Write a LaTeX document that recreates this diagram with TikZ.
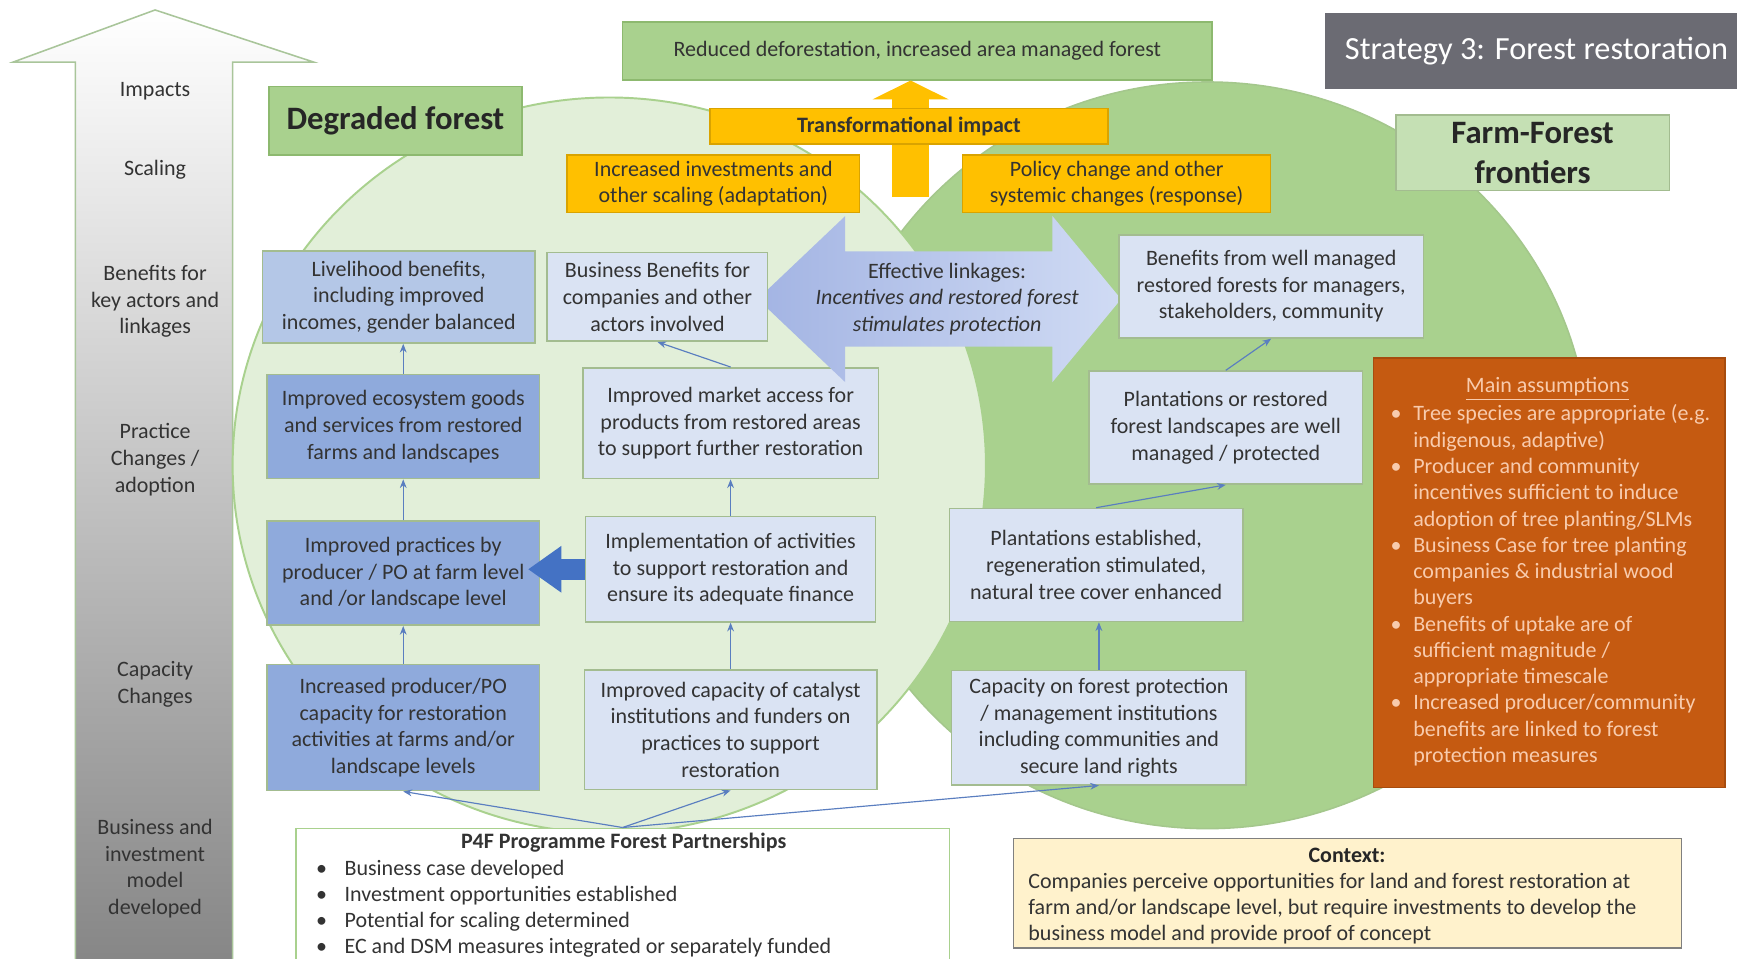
\documentclass[tikz,border=0pt]{standalone}
\usepackage{fontspec}
\setmainfont{Carlito}
\usepackage{tikz}
\usetikzlibrary{shapes,arrows,arrows.meta,positioning,calc}

\definecolor{leafpale}{HTML}{E2EFD9}
\definecolor{leaf}{HTML}{A9D18E}
\definecolor{leafedge}{HTML}{8DB96F}
\definecolor{leaflight}{HTML}{C5E0B4}
\definecolor{amber}{HTML}{FFC000}
\definecolor{amberedge}{HTML}{D9A300}
\definecolor{skypale}{HTML}{DAE3F3}
\definecolor{skymid}{HTML}{B4C7E7}
\definecolor{skydeep}{HTML}{8FAADC}
\definecolor{royal}{HTML}{4472C4}
\definecolor{linkblue}{HTML}{5A7EC0}
\definecolor{rust}{HTML}{C55A11}
\definecolor{peach}{HTML}{F8CBAD}
\definecolor{slate}{HTML}{6B6B73}
\definecolor{cream}{HTML}{FFF2CC}
\definecolor{ink}{HTML}{333333}
\definecolor{boxedge}{HTML}{A3BC90}
\definecolor{shaftedge}{HTML}{A9C59A}
\definecolor{wideL}{HTML}{A3B4E3}
\definecolor{wideR}{HTML}{D0DBF4}

\newcommand{\bul}{\textbullet}

\tikzset{
  box/.style      = {draw=boxedge, line width=0.8pt, rectangle, align=center, inner sep=0pt, text=ink},
  palebox/.style  = {box, fill=skypale},
  midbox/.style   = {box, fill=skymid},
  deepbox/.style  = {box, fill=skydeep},
  amberbox/.style = {box, fill=amber, draw=amberedge},
  greenbox/.style = {box, fill=leaf, draw=leafedge},
  titlebox/.style = {box, font=\fontsize{16.8}{20.5}\selectfont\bfseries, text=black!85},
  link/.style     = {-{Stealth[length=4.5pt,width=3.5pt]}, line width=0.6pt, draw=linkblue},
  level/.style    = {align=center, text=ink},
  listtext/.style = {anchor=north west, inner sep=0pt, align=left, font=\fontsize{11.3}{13.5}\selectfont}
}

\begin{document}
\begin{tikzpicture}[x=0.02cm, y=-0.02cm, font=\fontsize{11.3}{13.7}\selectfont]
  \fill[white] (0,0) rectangle (1568,865);
  \useasboundingbox (0,0) rectangle (1568,865);

  % level arrow on the left
  \shadedraw[top color=white, middle color=black!12, bottom color=black!48, draw=shaftedge, line width=0.8pt]
    (68,880) -- (68,56) -- (12,56) -- (140,9) -- (283,56) -- (210,56) -- (210,880) -- cycle;
  \node[level] (lvimpact) at (140,82) {Impacts};
  \node[level] (lvscaling) at (140,153) {Scaling};
  \node[level] (lvbenefit) at (140,272) {Benefits for\\key actors and\\linkages};
  \node[level] (lvpractice) at (140,415) {Practice\\Changes /\\adoption};
  \node[level] (lvcapacity) at (140,618) {Capacity\\Changes};
  \node[level] (lvbusiness) at (140,784) {Business and\\investment\\model\\developed};

  % the two landscapes
  \draw[fill=leaf, draw=leafedge!80, line width=0.8pt] (1090,411) ellipse [x radius=345, y radius=337];
  \draw[fill=leafpale, draw=leaf, line width=1pt] (550,420) ellipse [x radius=340, y radius=332];

  % transformational impact arrow
  \coordinate (impactfoot) at (822,178);
  \node[greenbox, minimum width=10.64cm, minimum height=1.04cm] (reduced) at (828,46) {Reduced deforestation, increased area managed forest};
  \draw[line width=0.66cm, draw=amber, -{Triangle[width=1.36cm,length=0.34cm]}] (impactfoot) -- (impactfoot |- reduced.south);

  % headings
  \node[box, fill=slate, draw=slate, text=white, font=\fontsize{16.6}{20}\selectfont, minimum width=7.6cm, minimum height=1.36cm] (strategy) at (1387,46) {Strategy 3: Forest restoration};
  \node[titlebox, fill=leaf, draw=leafedge, minimum width=4.56cm, minimum height=1.24cm] (degraded) at (357,109) {Degraded forest};
  \node[titlebox, fill=leaflight, minimum width=4.94cm, minimum height=1.36cm] (frontier) at (1383.5,138) {Farm-Forest\\frontiers};

  \node[amberbox, font=\fontsize{11.3}{13.7}\selectfont\bfseries, minimum width=7.18cm, minimum height=0.64cm] (transf) at (820.5,114) {Transformational impact};
  \node[amberbox, minimum width=5.28cm, minimum height=1.04cm] (invest) at (644,166) {Increased investments and\\other scaling (adaptation)};
  \node[amberbox, minimum width=5.56cm, minimum height=1.04cm] (policy) at (1008,166) {Policy change and other\\systemic changes (response)};

  % middle column
  \node[palebox, minimum width=5.34cm, minimum height=2cm] (market) at (659.5,382) {Improved market access for\\products from restored areas\\to support further restoration};
  \node[palebox, minimum width=5.24cm, minimum height=1.9cm] (implement) [below=0.66cm of market] {Implementation of activities\\to support restoration and\\ensure its adequate finance};
  \node[palebox, minimum width=5.28cm, minimum height=2.16cm] (catalyst) [below=0.84cm of implement] {Improved capacity of catalyst\\institutions and funders on\\practices to support\\restoration};

  % effective linkages
  \coordinate (wideL) at (684,270);
  \coordinate (wideR) at (1012,270);
  \shade[left color=wideL, right color=wideR]
    (wideL) -- ++(79,-75) -- ++(0,32) -- ++(187,0) -- ++(0,-32) -- (wideR)
    -- ++(-62,75) -- ++(0,-32) -- ++(-187,0) -- ++(0,32) -- cycle;
  \node[level] (linktext) at (855,270) {Effective linkages:\\\textit{Incentives and restored forest}\\\textit{stimulates protection}};

  \node[palebox, minimum width=3.98cm, minimum height=1.6cm] (bizben) at (593.5,268) {Business Benefits for\\companies and other\\actors involved};

  % left column
  \node[deepbox, minimum width=4.92cm, minimum height=1.88cm] (ecosys) at (364,385) {Improved ecosystem goods\\and services from restored\\farms and landscapes};
  \node[midbox, minimum width=4.92cm, minimum height=1.66cm] (liveli) [above=0.54cm of ecosys, xshift=-0.08cm] {Livelihood benefits,\\including improved\\incomes, gender balanced};
  \node[deepbox, minimum width=4.92cm, minimum height=1.88cm] (practices) [below=0.74cm of ecosys] {Improved practices by\\producer / PO at farm level\\and /or landscape level};
  \node[deepbox, minimum width=4.92cm, minimum height=2.28cm] (prodcap) [below=0.68cm of practices] {Increased producer/PO\\capacity for restoration\\activities at farms and/or\\landscape levels};

  % right column
  \node[palebox, minimum width=5.5cm, minimum height=1.86cm] (wellman) at (1147.5,258.5) {Benefits from well managed\\restored forests for managers,\\stakeholders, community};
  \node[palebox, minimum width=4.94cm, minimum height=2.04cm] (restored) at (1106.5,386) {Plantations or restored\\forest landscapes are well\\managed / protected};
  \node[palebox, minimum width=5.3cm, minimum height=2.04cm] (planted) at (989.5,510) {Plantations established,\\regeneration stimulated,\\natural tree cover enhanced};
  \node[palebox, minimum width=5.32cm, minimum height=2.06cm] (protcap) [below=0.86cm of planted, xshift=0.05cm] {Capacity on forest protection\\/ management institutions\\including communities and\\secure land rights};

  % assumptions
  \node[box, fill=rust, draw=rust!85!black, minimum width=6.34cm, minimum height=7.76cm] (assume) at (1398.5,517) {};
  \node[text=peach] (assumetitle) at (1397,351) {\underline{Main assumptions}};
  \node[listtext, text=peach] (assumelist) at (1255,363) {\begin{tabular}{@{}l@{\hspace{6pt}}l@{}}
    \bul & Tree species are appropriate (e.g.\\
         & indigenous, adaptive)\\
    \bul & Producer and community\\
         & incentives sufficient to induce\\
         & adoption of tree planting/SLMs\\
    \bul & Business Case for tree planting\\
         & companies \& industrial wood\\
         & buyers\\
    \bul & Benefits of uptake are of\\
         & sufficient magnitude /\\
         & appropriate timescale\\
    \bul & Increased producer/community\\
         & benefits are linked to forest\\
         & protection measures
  \end{tabular}};

  % programme
  \node[box, fill=white, draw=leaf, minimum width=11.8cm, minimum height=2.66cm, anchor=north] (p4f) at (562,747) {};
  \node[font=\fontsize{11.3}{13.7}\selectfont\bfseries, text=ink] (p4ftitle) at (563,761) {P4F Programme Forest Partnerships};
  \node[listtext, text=ink] (p4flist) at (285,773) {\begin{tabular}{@{}l@{\hspace{9pt}}l@{}}
    \bul & Business case developed\\
    \bul & Investment opportunities established\\
    \bul & Potential for scaling determined\\
    \bul & EC and DSM measures integrated or separately funded
  \end{tabular}};

  % context
  \node[box, fill=cream, draw=black!50, minimum width=12.06cm, minimum height=1.98cm] (context) at (1216.5,806.5) {};
  \node[font=\fontsize{11.3}{13.7}\selectfont\bfseries, text=black!85] (contexttitle) at (1216,772) {Context:};
  \node[listtext, text=ink] (contextlist) at (928,785) {\begin{tabular}{@{}l@{}}
    Companies perceive opportunities for land and forest restoration at\\
    farm and/or landscape level, but require investments to develop the\\
    business model and provide proof of concept
  \end{tabular}};

  % links
  \draw[link] (ecosys.north) -- (ecosys.north |- liveli.south);
  \draw[link] (practices.north) -- (ecosys.south);
  \draw[link] (prodcap.north) -- (practices.south);
  \draw[link] (market.north) -- (bizben.south);
  \draw[link] (implement.north) -- (market.south);
  \draw[link] (catalyst.north) -- (implement.south);
  \draw[link] (restored.north) -- (wellman.south);
  \draw[link] (planted.north) -- (restored.south);
  \draw[link] (protcap.north) -- (protcap.north |- planted.south);
  \draw[link] (p4f.north) -- (prodcap.south);
  \draw[link] (p4f.north) -- (catalyst.south);
  \draw[link] (p4f.north) -- (protcap.south);
  \draw[line width=0.38cm, draw=royal, -{Triangle[width=0.8cm,length=0.6cm]}, shorten >=-0.22cm] (implement.west) -- (practices.east |- implement.west);
\end{tikzpicture}
\end{document}
